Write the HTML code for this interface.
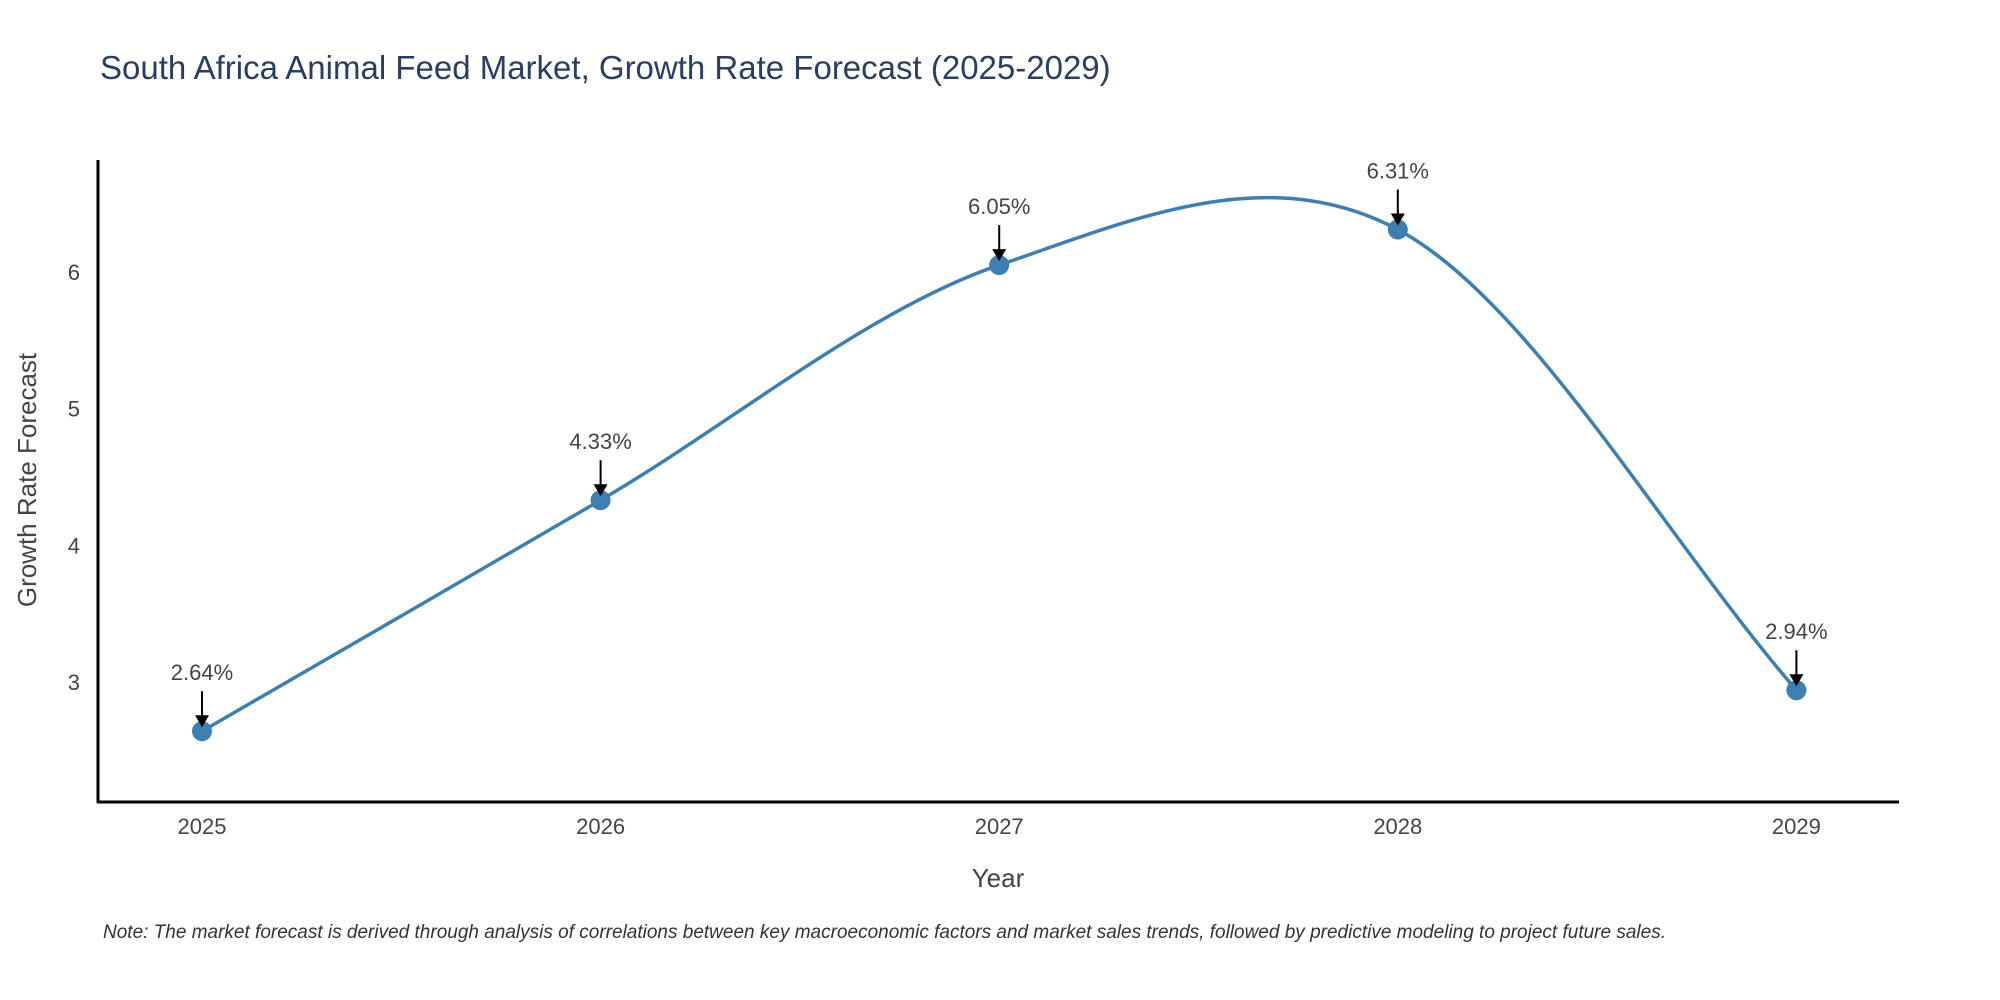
<!DOCTYPE html>
<html><head><meta charset="utf-8"><style>
body{margin:0;background:#fff;}
svg{display:block;font-family:"Liberation Sans",sans-serif;}
</style></head><body>
<svg id="chart" width="2000" height="1000">
<text x="100" y="79" font-size="33" fill="#2a3f5f">South Africa Animal Feed Market, Growth Rate Forecast (2025-2029)</text>
<g id="yticks"></g><g id="xticks"></g>
<path id="line" fill="none" stroke="#3d7fb0" stroke-width="3.5"/>
<g id="marks"></g>
<line x1="98" y1="160" x2="98" y2="803" stroke="#000" stroke-width="3"/>
<line x1="97" y1="802" x2="1899" y2="802" stroke="#000" stroke-width="3"/>
<text x="998" y="887" font-size="26" fill="#444" text-anchor="middle">Year</text>
<text x="36" y="480" font-size="26" fill="#444" text-anchor="middle" transform="rotate(-90 36 480)">Growth Rate Forecast</text>
<text x="103" y="938" font-size="19" font-style="italic" fill="#333">Note: The market forecast is derived through analysis of correlations between key macroeconomic factors and market sales trends, followed by predictive modeling to project future sales.</text>
</svg>
<script>
const years=[2025,2026,2027,2028,2029];
const values=[2.64,4.33,6.05,6.31,2.94];
const labels=["2.64%","4.33%","6.05%","6.31%","2.94%"];
const yTicks=[3,4,5,6];
const NS="http://www.w3.org/2000/svg";
function sx(v){return 202+(v-2025)*398.6;}
function sy(v){return 682-(v-3)*136.7;}
function mk(t,a,p){const e=document.createElementNS(NS,t);for(const k in a)e.setAttribute(k,a[k]);p.appendChild(e);return e;}
const yt=document.getElementById('yticks');
yTicks.forEach(v=>{const t=mk('text',{x:80,y:sy(v)+8,'font-size':22,fill:'#444','text-anchor':'end'},yt);


t.textContent=v;});
const xt=document.getElementById('xticks');
years.forEach(v=>{const t=mk('text',{x:sx(v),y:834,'font-size':22,fill:'#444','text-anchor':'middle'},xt);


t.textContent=v;});
const P=years.map((y,i)=>[sx(y),sy(values[i])]);
let d=`M${P[0][0]},${P[0][1]}`;
const s=0.5;
function tan(i){const a=P[Math.max(0,i-1)],b=P[Math.min(P.length-1,i+1)];const f=(i==0||i==P.length-1)?1:0.5;return[(b[0]-a[0])*s*f*0.66,(b[1]-a[1])*s*f*0.66];}
for(let i=0;i<P.length-1;i++){const t0=tan(i),t1=tan(i+1);
d+=` C${P[i][0]+t0[0]},${P[i][1]+t0[1]} ${P[i+1][0]-t1[0]},${P[i+1][1]-t1[1]} ${P[i+1][0]},${P[i+1][1]}`;}
document.getElementById('line').setAttribute('d',d);
const g=document.getElementById('marks');
P.forEach((p,i)=>{
const c=mk('circle',{cx:p[0],cy:p[1],r:10,fill:'#3d7fb0'},g);


const l=mk('line',{x1:p[0],y1:p[1]-40,x2:p[0],y2:p[1]-12,stroke:'#000','stroke-width':2},g);


const h=mk('path',{d:`M${p[0]-7},${p[1]-16} L${p[0]+7},${p[1]-16} L${p[0]},${p[1]-4} Z`,fill:'#000'},g);


const t=mk('text',{x:p[0],y:p[1]-51,'font-size':22,fill:'#444','text-anchor':'middle'},g);


t.textContent=labels[i];
});
</script>
</body></html>
